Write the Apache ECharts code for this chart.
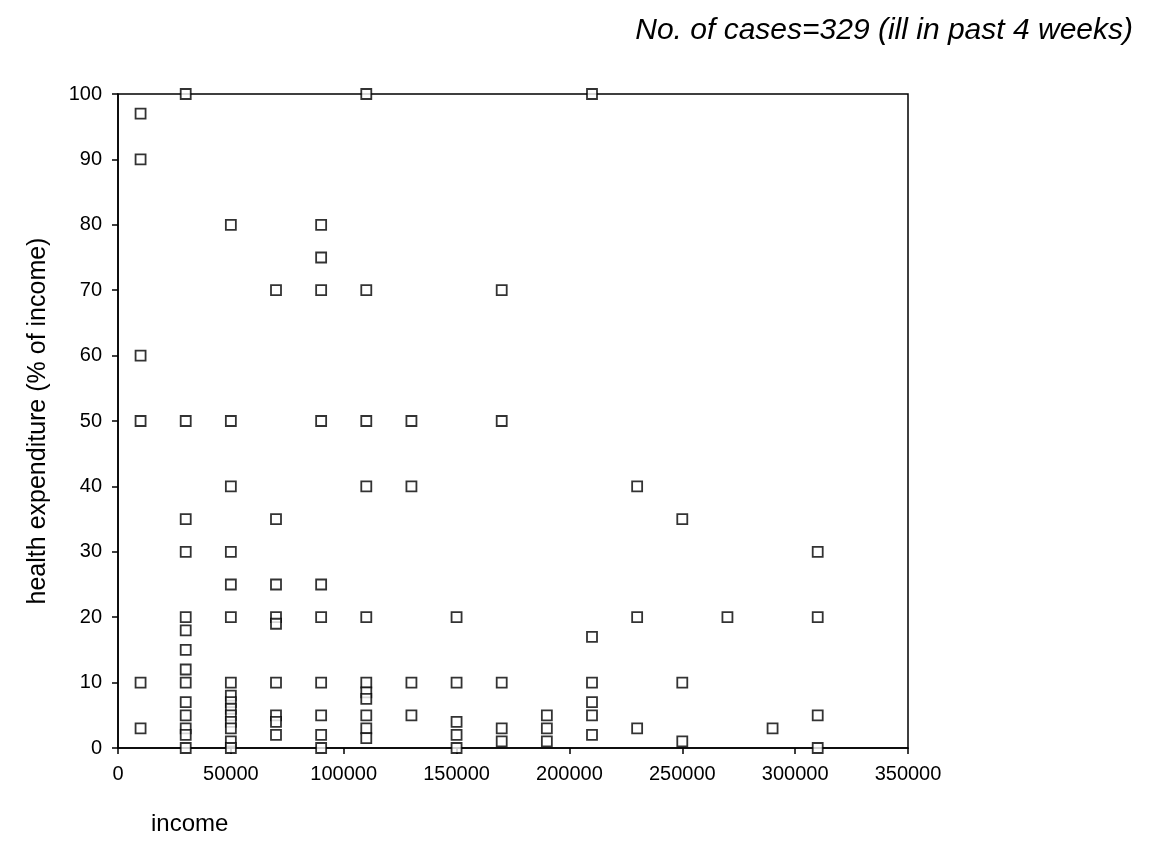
<!DOCTYPE html>
<html>
<head>
<meta charset="utf-8">
<script src="https://cdn.jsdelivr.net/npm/echarts@6/dist/echarts.min.js"></script>
<style>
html,body{margin:0;padding:0;background:#fff;}
#chart{width:1169px;height:855px;}
</style>
</head>
<body>
<div id="chart"></div>
<script>
// Income levels (x) and health expenditure values (% of income) observed at each level
var incomeLevels = [10000, 30000, 50000, 70000, 90000, 110000, 130000, 150000, 170000, 190000, 210000, 230000, 250000, 270000, 290000, 310000];
var exp10000  = [97, 90, 60, 50, 10, 3];
var exp30000  = [100, 50, 35, 30, 20, 18, 15, 12, 10, 7, 5, 3, 2, 0];
var exp50000  = [80, 50, 40, 30, 25, 20, 10, 8, 7, 6, 5, 4, 3, 1, 0];
var exp70000  = [70, 35, 25, 20, 19, 10, 5, 4, 2];
var exp90000  = [80, 75, 70, 50, 25, 20, 10, 5, 2, 0];
var exp110000 = [100, 70, 50, 40, 20, 10, 8.5, 7.5, 5, 3, 1.5];
var exp130000 = [50, 40, 10, 5];
var exp150000 = [20, 10, 4, 2, 0];
var exp170000 = [70, 50, 10, 3, 1];
var exp190000 = [5, 3, 1];
var exp210000 = [100, 17, 10, 7, 5, 2];
var exp230000 = [40, 20, 3];
var exp250000 = [35, 10, 1];
var exp270000 = [20];
var exp290000 = [3];
var exp310000 = [30, 20, 5, 0];
var expenditureByLevel = [exp10000, exp30000, exp50000, exp70000, exp90000, exp110000, exp130000, exp150000, exp170000, exp190000, exp210000, exp230000, exp250000, exp270000, exp290000, exp310000];

var xTicks = [0, 50000, 100000, 150000, 200000, 250000, 300000, 350000];
var yTicks = [0, 10, 20, 30, 40, 50, 60, 70, 80, 90, 100];

var titleText = 'No. of cases=329 (ill in past 4 weeks)';
var xName = 'income';
var yName = 'health expenditure (% of income)';

var points = [];
incomeLevels.forEach(function (inc, i) {
  expenditureByLevel[i].forEach(function (v) { points.push([inc, v]); });
});

var FONT = '"Liberation Sans", Arial, sans-serif';
var chart = echarts.init(document.getElementById('chart'), null, {renderer: 'canvas'});
chart.setOption({
  backgroundColor: '#ffffff',
  animation: false,
  title: [
    {text: titleText, right: 31, top: 11,
     textStyle: {fontFamily: FONT, fontSize: 30, fontStyle: 'italic', fontWeight: 'normal', color: '#000'}},
    {text: xName, left: 146, top: 807,
     textStyle: {fontFamily: FONT, fontSize: 24, fontWeight: 'normal', color: '#000'}}
  ],
  grid: {left: 118, right: 261, top: 94, bottom: 107, show: true, borderColor: '#000', borderWidth: 1.5, backgroundColor: 'transparent'},
  xAxis: {
    type: 'value', min: xTicks[0], max: xTicks[xTicks.length - 1], interval: 50000,
    axisLine: {show: true, onZero: false, lineStyle: {color: '#000', width: 1.5}},
    axisTick: {show: true, inside: false, length: 6, lineStyle: {color: '#000', width: 1.5}},
    axisLabel: {color: '#000', fontFamily: FONT, fontSize: 20, margin: 16,
                formatter: function (v) { return String(v); }},
    splitLine: {show: false}
  },
  yAxis: {
    type: 'value', min: yTicks[0], max: yTicks[yTicks.length - 1], interval: 10,
    name: yName, nameLocation: 'middle', nameGap: 67, nameRotate: 90,
    nameTextStyle: {fontFamily: FONT, fontSize: 25, color: '#000'},
    axisLine: {show: true, lineStyle: {color: '#000', width: 1.5}},
    axisTick: {show: true, length: 6, lineStyle: {color: '#000', width: 1.5}},
    axisLabel: {color: '#000', fontFamily: FONT, fontSize: 20, margin: 16},
    splitLine: {show: false}
  },
  series: [{
    type: 'scatter',
    data: points,
    symbol: 'rect',
    symbolSize: 10,
    clip: false,
    itemStyle: {color: '#fff', borderColor: '#000', borderWidth: 1.8}
  }]
});
</script>
</body>
</html>
